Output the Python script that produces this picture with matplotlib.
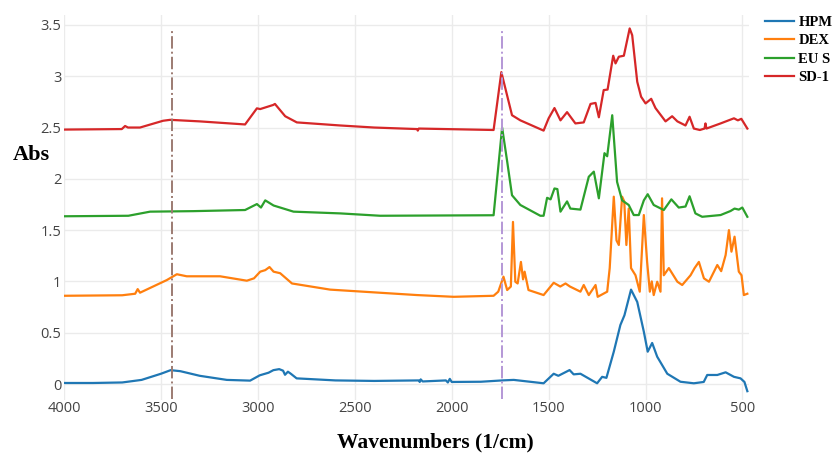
import matplotlib
matplotlib.use("Agg")
import matplotlib.pyplot as plt

# HPM
hpm_w = [4000, 3850, 3700, 3600, 3500, 3450, 3400, 3300, 3160, 3040, 2990, 2945, 2920,
         2890, 2870, 2860, 2845, 2830, 2800, 2600, 2400, 2170, 2165, 2160, 2150, 2030,
         2020, 2010, 2000, 1850, 1740, 1680, 1526, 1474, 1450, 1392, 1371, 1336, 1250,
         1224, 1202, 1164, 1130, 1109, 1075, 1043, 1009, 989, 966, 940, 888, 820, 751,
         700, 682, 630, 587, 544, 510, 490, 475]
hpm_a = [0.01, 0.01, 0.015, 0.04, 0.10, 0.135, 0.125, 0.08, 0.04, 0.033, 0.085, 0.11, 0.135,
         0.145, 0.13, 0.09, 0.12, 0.10, 0.055, 0.035, 0.03, 0.035, 0.02, 0.045, 0.025, 0.035,
         0.015, 0.05, 0.02, 0.022, 0.035, 0.04, 0.007, 0.10, 0.08, 0.136, 0.094, 0.10, 0.007,
         0.07, 0.06, 0.315, 0.575, 0.67, 0.92, 0.80, 0.51, 0.315, 0.40, 0.266, 0.10, 0.022, 0.007,
         0.02, 0.088, 0.088, 0.114, 0.07, 0.055, 0.02, -0.07]

# DEX
dex_w = [4000, 3700, 3633, 3620, 3608, 3470, 3418, 3367, 3195, 3057, 3020, 2988, 2962,
         2940, 2919, 2885, 2824, 2627, 2179, 1990, 1784, 1760, 1733, 1714, 1695, 1684,
         1672, 1660, 1643, 1632, 1624, 1604, 1526, 1474, 1440, 1413, 1390, 1336, 1319,
         1293, 1258, 1247, 1198, 1185, 1164, 1150, 1138, 1121, 1110, 1099, 1087, 1075,
         1052, 1030, 1009, 992, 978, 968, 958, 940, 923, 915, 906, 880, 836, 811, 768,
         747, 725, 699, 673, 630, 610, 587, 570, 557, 541, 519, 505, 493, 475]
dex_a = [0.86, 0.865, 0.88, 0.925, 0.89, 1.013, 1.07, 1.05, 1.05, 1.007, 1.03, 1.095, 1.11,
         1.14, 1.095, 1.08, 0.98, 0.92, 0.867, 0.85, 0.86, 0.90, 1.046, 0.916, 0.95, 1.58,
         0.997, 0.98, 1.19, 1.02, 1.095, 0.916, 0.867, 0.987, 0.95, 0.98, 0.95, 0.90, 0.965,
         0.867, 0.965, 0.85, 0.90, 1.13, 1.826, 1.40, 1.355, 1.826, 1.78, 1.355, 1.71, 1.13,
         1.06, 0.90, 1.647, 1.19, 0.90, 1.0, 0.867, 0.997, 0.90, 1.81, 1.06, 1.13, 0.997, 0.965, 1.06,
         1.13, 1.19, 1.03, 0.997, 1.16, 1.10, 1.257, 1.50, 1.29, 1.436, 1.095, 1.06, 0.867, 0.88]

# EU S
eus_w = [4000, 3668, 3556, 3332, 3066, 3005, 2984, 2962, 2919, 2816, 2575, 2369, 1784,
         1740, 1714, 1689, 1646, 1543, 1526, 1508, 1490, 1470, 1455, 1439, 1405, 1388,
         1336, 1293, 1267, 1241, 1212, 1198, 1172, 1147, 1121, 1087, 1061, 1035, 1009,
         989, 958, 906, 867, 829, 794, 773, 743, 708, 613, 562, 541, 519, 501, 475]
eus_a = [1.635, 1.64, 1.68, 1.685, 1.696, 1.754, 1.72, 1.79, 1.74, 1.68, 1.663, 1.64, 1.645,
         2.50, 2.17, 1.84, 1.745, 1.64, 1.64, 1.815, 1.80, 1.906, 1.90, 1.68, 1.78, 1.71,
         1.70, 2.02, 2.07, 1.81, 2.25, 2.22, 2.62, 1.97, 1.79, 1.745, 1.647, 1.647, 1.79,
         1.85, 1.745, 1.696, 1.80, 1.72, 1.73, 1.83, 1.663, 1.63, 1.647, 1.686, 1.71, 1.70, 1.72, 1.63]

# SD-1
sd_w = [4000, 3702, 3685, 3670, 3608, 3489, 3453, 3300, 3066, 3005, 2988, 2921, 2912,
        2859, 2799, 2575, 2400, 2179, 2175, 2170, 1784, 1744, 1689, 1646, 1526, 1500,
        1470, 1439, 1405, 1362, 1319, 1284, 1258, 1241, 1216, 1196, 1167, 1155, 1138,
        1112, 1082, 1069, 1043, 1023, 1000, 971, 949, 897, 863, 836, 794, 773, 751, 720,
        696, 691, 686, 613, 544, 524, 506, 475]
sd_a = [2.48, 2.485, 2.515, 2.50, 2.50, 2.566, 2.575, 2.56, 2.53, 2.687, 2.68, 2.72, 2.73,
        2.61, 2.55, 2.52, 2.50, 2.485, 2.47, 2.49, 2.476, 3.04, 2.62, 2.57, 2.47, 2.59,
        2.69, 2.57, 2.65, 2.54, 2.55, 2.73, 2.74, 2.60, 2.865, 2.87, 3.20, 3.125, 3.19,
        3.20, 3.466, 3.40, 2.946, 2.80, 2.735, 2.78, 2.69, 2.56, 2.61, 2.56, 2.52, 2.605, 2.49, 2.476,
        2.49, 2.54, 2.49, 2.54, 2.59, 2.57, 2.585, 2.49]

series = [("HPM", hpm_w, hpm_a, "#1f77b4"),
          ("DEX", dex_w, dex_a, "#ff7f0e"),
          ("EU S", eus_w, eus_a, "#2ca02c"),
          ("SD-1", sd_w, sd_a, "#d62728")]

marker_w = [3445, 1740]
marker_c = ["#9c7b72", "#b497d6"]

x_ticks = [4000, 3500, 3000, 2500, 2000, 1500, 1000, 500]
y_ticks = [0, 0.5, 1, 1.5, 2, 2.5, 3, 3.5]

fig = plt.figure(figsize=(8.38, 4.57), dpi=100)
ax = fig.add_axes([0.0764, 0.1247, 0.8175, 0.8425])

for name, w, a, c in series:
    ax.plot(w, a, color=c, lw=1.6, label=name)

for w, c in zip(marker_w, marker_c):
    ax.plot([w, w], [-0.15, 3.47], color=c, lw=1.4, ls="-.")

ax.set_xlim(4000, 466)
ax.set_ylim(-0.156, 3.597)
ax.set_xticks(x_ticks)
ax.set_xticklabels([str(t) for t in x_ticks])
ax.set_yticks(y_ticks)
ax.set_yticklabels(["0", "0.5", "1", "1.5", "2", "2.5", "3", "3.5"])
ax.grid(True, color="#ebebeb", lw=1)
ax.set_axisbelow(True)
for s in ax.spines.values():
    s.set_visible(False)
ax.tick_params(length=0, labelsize=10.5, labelcolor="#444444")
ax.tick_params(axis="x", pad=1)
ax.tick_params(axis="y", pad=2)
for lab in ax.get_xticklabels() + ax.get_yticklabels():
    lab.set_family("Open Sans")

ax.set_xlabel("Wavenumbers (1/cm)", family="Liberation Serif", fontweight="bold",
              fontsize=15.5)
ax.xaxis.set_label_coords(0.542, -0.085)
ax.set_ylabel("Abs", family="Liberation Serif", fontweight="bold", fontsize=16,
              rotation=0, va="center", ha="center")
ax.yaxis.set_label_coords(-0.048, 0.636)

leg = ax.legend(loc="upper left", bbox_to_anchor=(1.023, 0.998), frameon=False,
                prop={"family": "Liberation Serif", "weight": "bold", "size": 10.5},
                handlelength=2.0, handletextpad=0.3, labelspacing=0.36,
                borderpad=0, borderaxespad=0)

fig.savefig("out.png", dpi=100)
